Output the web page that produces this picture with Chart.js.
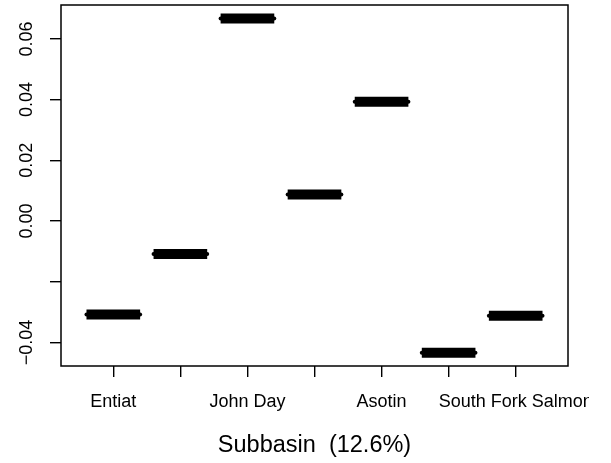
<!DOCTYPE html>
<html>
<head>
<meta charset="utf-8">
<script src="https://cdn.jsdelivr.net/npm/chart.js@4/dist/chart.umd.min.js"></script>
<style>
  html, body { margin: 0; padding: 0; background: #fff; }
  canvas { display: block; }
</style>
</head>
<body>
<canvas id="c" width="611" height="463"></canvas>
<script>
// Subbasin effects: one level per subbasin, drawn as a thick horizontal segment.
const subbasinLabels = ['Entiat', '', 'John Day', '', 'Asotin', '', 'South Fork Salmon'];
const subbasinEffects = [-0.0308, -0.0109, 0.0667, 0.0087, 0.0393, -0.0434, -0.0312];

const yTickValues = [-0.04, -0.02, 0.00, 0.02, 0.04, 0.06];
const yTickLabels = ['\u22120.04', '', '0.00', '0.02', '0.04', '0.06'];

const axisTitle = 'Subbasin  (12.6%)';

const HALF_WIDTH = 0.4;   // half of the segment width, in category units
const FONT = '"Liberation Sans", Arial, Helvetica, sans-serif';

// Segment endpoints, separated by gaps so each level is its own stroke
const segPoints = [];
subbasinEffects.forEach((v, i) => {
  const pos = i + 1;
  segPoints.push({ x: pos - HALF_WIDTH, y: v });
  segPoints.push({ x: pos + HALF_WIDTH, y: v });
  segPoints.push({ x: pos + 0.5, y: null });
});
const xTickValues = subbasinEffects.map((_, i) => i + 1);

const framePlugin = {
  id: 'frame',
  afterDraw(chart) {
    const { ctx, chartArea: a, scales: { x, y } } = chart;
    ctx.save();
    ctx.strokeStyle = '#000';
    ctx.lineWidth = 1.5;
    ctx.strokeRect(a.left, a.top, a.right - a.left, a.bottom - a.top);

    ctx.fillStyle = '#000';
    ctx.beginPath();
    ctx.rect(0, 0, 589, chart.height);
    ctx.clip();

    // category labels under the axis
    ctx.font = '18px ' + FONT;
    ctx.textAlign = 'center';
    ctx.textBaseline = 'middle';
    xTickValues.forEach((v, i) => {
      if (subbasinLabels[i]) ctx.fillText(subbasinLabels[i], x.getPixelForValue(v), 402);
    });

    // axis title
    ctx.font = '23.5px ' + FONT;
    ctx.fillText(axisTitle, (a.left + a.right) / 2, 446);

    // vertical tick labels on the left
    ctx.font = '18px ' + FONT;
    yTickValues.forEach((v, i) => {
      if (!yTickLabels[i]) return;
      ctx.save();
      ctx.translate(27, y.getPixelForValue(v));
      ctx.rotate(-Math.PI / 2);
      ctx.fillText(yTickLabels[i], 0, 0);
      ctx.restore();
    });
    ctx.restore();
  }
};

new Chart(document.getElementById('c'), {
  type: 'line',
  data: {
    datasets: [{
      data: segPoints,
      borderColor: '#000',
      borderWidth: 10,
      borderCapStyle: 'butt',
      pointRadius: 2,
      pointBackgroundColor: '#000',
      pointBorderWidth: 0,
      spanGaps: false,
      tension: 0
    }]
  },
  options: {
    responsive: false,
    animation: false,
    events: [],
    layout: { padding: { top: 5, right: 43, left: 0, bottom: 0 } },
    plugins: { legend: { display: false }, tooltip: { enabled: false } },
    scales: {
      x: {
        type: 'linear',
        min: 0.22,
        max: 7.78,
        afterBuildTicks(scale) { scale.ticks = xTickValues.map(v => ({ value: v })); },
        afterFit(scale) { scale.height = 97; scale.paddingLeft = 0; scale.paddingRight = 0; },
        ticks: { display: false },
        border: { display: false },
        grid: { drawOnChartArea: false, drawTicks: true, tickLength: 11, color: '#000', lineWidth: 1.4 }
      },
      y: {
        type: 'linear',
        min: -0.04778,
        max: 0.07117,
        afterBuildTicks(scale) { scale.ticks = yTickValues.map(v => ({ value: v })); },
        afterFit(scale) { scale.width = 61; scale.paddingTop = 0; scale.paddingBottom = 0; },
        ticks: { display: false },
        border: { display: false },
        grid: { drawOnChartArea: false, drawTicks: true, tickLength: 11, color: '#000', lineWidth: 1.4 }
      }
    }
  },
  plugins: [framePlugin]
});
</script>
</body>
</html>
